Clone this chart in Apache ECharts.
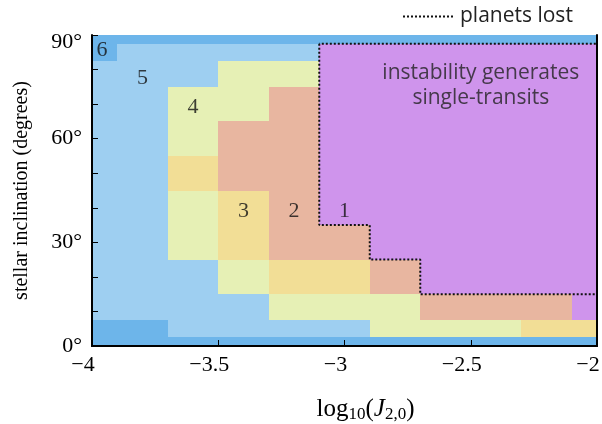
<!DOCTYPE html>
<html>
<head>
<meta charset="utf-8">
<script src="https://cdn.jsdelivr.net/npm/echarts@6/dist/echarts.min.js"></script>
<style>html,body{margin:0;padding:0;background:#fff}#chart{width:602px;height:424px}</style>
</head>
<body>
<div id="chart"></div>
<script>
// cell centres
var logJ = [-4.0, -3.8, -3.6, -3.4, -3.2, -3.0, -2.8, -2.6, -2.4, -2.2, -2.0];
var incl = [0, 5, 10, 20, 30, 40, 50, 60, 70, 80, 85, 90];
// transiting planets per cell, one row per inclination (bottom to top)
var nTransit = [
  [6,6,6,6,6,6,6,6,6,6,6],
  [6,6,5,5,5,5,4,4,4,3,3],
  [5,5,5,5,4,4,4,2,2,2,1],
  [5,5,5,4,3,3,2,1,1,1,1],
  [5,5,4,3,2,2,1,1,1,1,1],
  [5,5,4,3,2,1,1,1,1,1,1],
  [5,5,3,2,2,1,1,1,1,1,1],
  [5,5,4,2,2,1,1,1,1,1,1],
  [5,5,4,4,2,1,1,1,1,1,1],
  [5,5,5,4,4,1,1,1,1,1,1],
  [6,5,5,5,5,1,1,1,1,1,1],
  [6,6,6,6,6,6,6,6,6,6,6]
];
// "planets lost" outline
var lostX = [-3.1, -3.1, -2.9, -2.9, -2.7, -2.7, -2.0, -2.0, -3.1];
var lostY = [87.5, 35, 35, 25, 25, 15, 15, 87.5, 87.5];
// region numbers
var countText = ['6', '5', '4', '3', '2', '1'];
var countX = [-3.96, -3.8, -3.6, -3.4, -3.2, -3.0];
var countY = [85.5, 77.5, 69, 39, 39, 39];
var yTickLabels = [0, 30, 60, 90];

var colors = {1: '#cf94ec', 2: '#e8b6a0', 3: '#f2de96', 4: '#e6f0b5', 5: '#9ecff1', 6: '#6db5ea'};

function edges(c) {
    var e = [c[0] - (c[1] - c[0]) / 2];
    for (var i = 0; i < c.length - 1; i++) e.push((c[i] + c[i + 1]) / 2);
    e.push(c[c.length - 1] + (c[c.length - 1] - c[c.length - 2]) / 2);
    return e;
}
var xe = edges(logJ), ye = edges(incl);
var cells = [];
for (var r = 0; r < incl.length; r++) {
    for (var c = 0; c < logJ.length; c++) {
        cells.push([xe[c], xe[c + 1], ye[r], ye[r + 1], nTransit[r][c]]);
    }
}
var lostData = lostX.map(function (x, i) { return [x, lostY[i]]; });
var countData = countX.map(function (x, i) { return {value: [x, countY[i]], name: countText[i]}; });

var myChart = echarts.init(document.getElementById('chart'));
var serif = 'Liberation Serif';
var option = {
    animation: false,
    grid: {left: 92, right: 5, top: 35, bottom: 78, outerBoundsMode: 'none'},
    legend: {
        data: ['planets lost'],
        top: 1, left: 397,
        itemWidth: 52, itemHeight: 14, itemGap: 14,
        itemStyle: {opacity: 0},
        textStyle: {fontFamily: 'Open Sans', fontSize: 21, color: '#222'}
    },
    xAxis: [{
        type: 'value', min: -4, max: -2, interval: 0.5, z: 10,
        axisLine: {lineStyle: {color: '#000', width: 2}},
        axisTick: {inside: true, length: 6, lineStyle: {color: '#000'}},
        splitLine: {show: false},
        axisLabel: {
            margin: 8,
            formatter: function (v) { return '{t|' + (v < 0 ? '\u2212' : '') + Math.abs(v) + '}'; },
            rich: {t: {fontFamily: serif, fontSize: 22, color: '#000', padding: [0, 18, 0, 0]}}
        },
        name: '{n|log}{s|10}{n|(}{i|J}{s|2,0}{n|)}',
        nameLocation: 'middle', nameGap: 49,
        nameTextStyle: {
            padding: [0, 0, 0, 42],
            rich: {
                n: {fontFamily: serif, fontSize: 25, color: '#000'},
                i: {fontFamily: serif, fontSize: 25, fontStyle: 'italic', color: '#000'},
                s: {fontFamily: serif, fontSize: 17, color: '#000', padding: [11, 0, 0, 0]}
            }
        }
    }, {
        type: 'value', min: -4, max: -2, position: 'top', z: 10,
        axisLine: {show: true, lineStyle: {color: '#000', width: 2}},
        axisTick: {show: false}, axisLabel: {show: false}, splitLine: {show: false}
    }],
    yAxis: [{
        type: 'value', min: 0, max: 90, interval: 10, z: 10,
        axisLine: {lineStyle: {color: '#000', width: 2}},
        axisTick: {inside: true, length: 6, lineStyle: {color: '#000'}},
        splitLine: {show: false},
        axisLabel: {
            margin: 10, color: '#000', fontFamily: serif, fontSize: 22,
            formatter: function (v) {
                if (yTickLabels.indexOf(v) < 0) return '';
                return v === 90 ? '{t|' + v + '\u00b0}' : v + '\u00b0';
            },
            rich: {t: {fontFamily: serif, fontSize: 22, color: '#000', padding: [14, 0, 0, 0]}}
        },
        name: 'stellar inclination (degrees)',
        nameLocation: 'middle', nameGap: 60, nameRotate: 90,
        nameTextStyle: {fontFamily: serif, fontSize: 20, color: '#000'}
    }, {
        type: 'value', min: 0, max: 90, position: 'right', z: 10,
        axisLine: {show: true, lineStyle: {color: '#000', width: 2}},
        axisTick: {show: false}, axisLabel: {show: false}, splitLine: {show: false}
    }],
    series: [{
        name: 'cells',
        type: 'custom',
        data: cells,
        encode: {x: [0, 1], y: [2, 3]},
        clip: true,
        renderItem: function (params, api) {
            var p0 = api.coord([api.value(0), api.value(3)]);
            var p1 = api.coord([api.value(1), api.value(2)]);
            var x0 = Math.round(p0[0]), y0 = Math.round(p0[1]);
            var x1 = Math.round(p1[0]), y1 = Math.round(p1[1]);
            var shape = echarts.graphic.clipRectByRect(
                {x: x0, y: y0, width: x1 - x0, height: y1 - y0},
                {x: params.coordSys.x, y: params.coordSys.y, width: params.coordSys.width, height: params.coordSys.height});
            if (!shape) return;
            return {type: 'rect', shape: shape, style: {fill: colors[api.value(4)]}};
        }
    }, {
        name: 'planets lost',
        type: 'line',
        data: lostData,
        symbol: 'none',
        z: 5,
        lineStyle: {color: '#111', width: 2, type: [2, 2]},
        itemStyle: {color: '#111'}
    }, {
        name: 'counts',
        type: 'scatter',
        data: countData,
        symbolSize: 0,
        z: 6,
        label: {
            show: true, position: 'inside', formatter: '{b}',
            fontFamily: serif, fontSize: 22, color: '#111'
        }
    }, {
        name: 'note',
        type: 'scatter',
        data: [{value: [-2.46, 75.5], name: 'instability generates\nsingle-transits'}],
        symbolSize: 0,
        z: 6,
        label: {
            show: true, position: 'inside', formatter: '{b}', align: 'center',
            fontFamily: 'Open Sans', fontSize: 21, lineHeight: 25, color: '#222'
        }
    }]
};
myChart.setOption(option);
window.addEventListener('resize', function () {
    myChart.resize();
});
</script>
</body>
</html>
